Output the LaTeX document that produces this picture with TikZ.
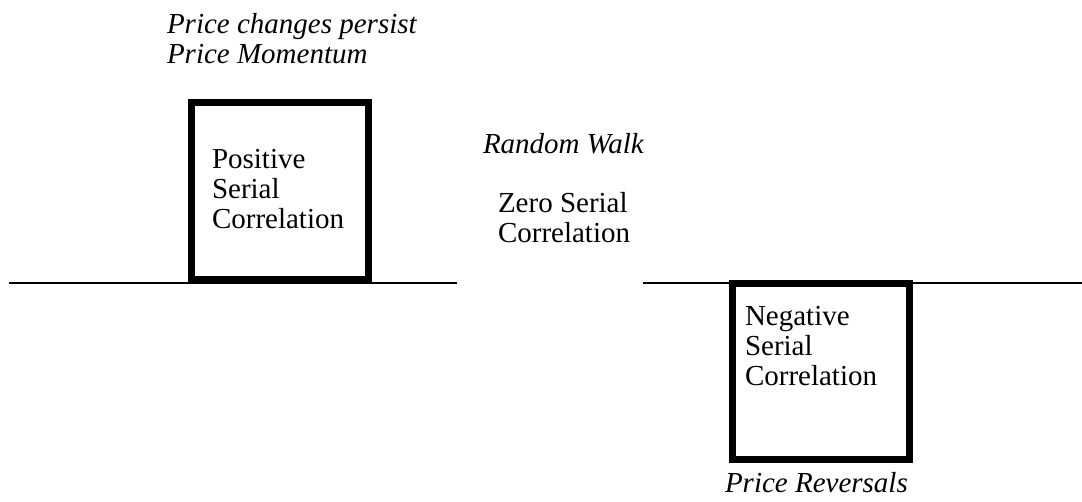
\documentclass[tikz,border=0pt]{standalone}
\usepackage{fontspec}
\setmainfont{Liberation Serif}
\begin{document}
\begin{tikzpicture}[x=1pt,y=-1pt,
  lbl/.style={inner sep=0pt,outer sep=0pt,align=left,anchor=base west,
    font=\fontsize{29}{30}\selectfont},
  ital/.style={lbl,font=\fontsize{29}{30}\selectfont\itshape},
  corrbox/.style={draw,line width=7pt,minimum width=177pt,minimum height=177pt,inner sep=0pt},
  axis/.style={line width=2.3pt}]
\useasboundingbox[fill=white] (0,0) rectangle (1082,501);
% axis lines
\coordinate (la) at (9,283);
\coordinate (lb) at (457,283);
\coordinate (ra) at (643,283);
\coordinate (rb) at (1082,283);
\draw[axis] (la) -- (lb);
\draw[axis] (ra) -- (rb);
% boxes
\node[corrbox] (pos) at (279.5,191) {};
\node[corrbox,minimum height=176.5pt] (neg) at (820.5,371.25) {};
% labels (anchored at the baseline of their last line)
\node[ital] (persist) at (167,63) {Price changes persist\\Price Momentum};
\node[lbl] (postext) at (212,228) {Positive\\Serial\\Correlation};
\node[ital] (rw) at (483,153) {Random Walk};
\node[lbl] (zero) at (498,242) {Zero Serial\\Correlation};
\node[lbl] (negtext) at (745,385) {Negative\\Serial\\Correlation};
\node[ital] (rev) at (725,492) {Price Reversals};
\end{tikzpicture}
\end{document}
